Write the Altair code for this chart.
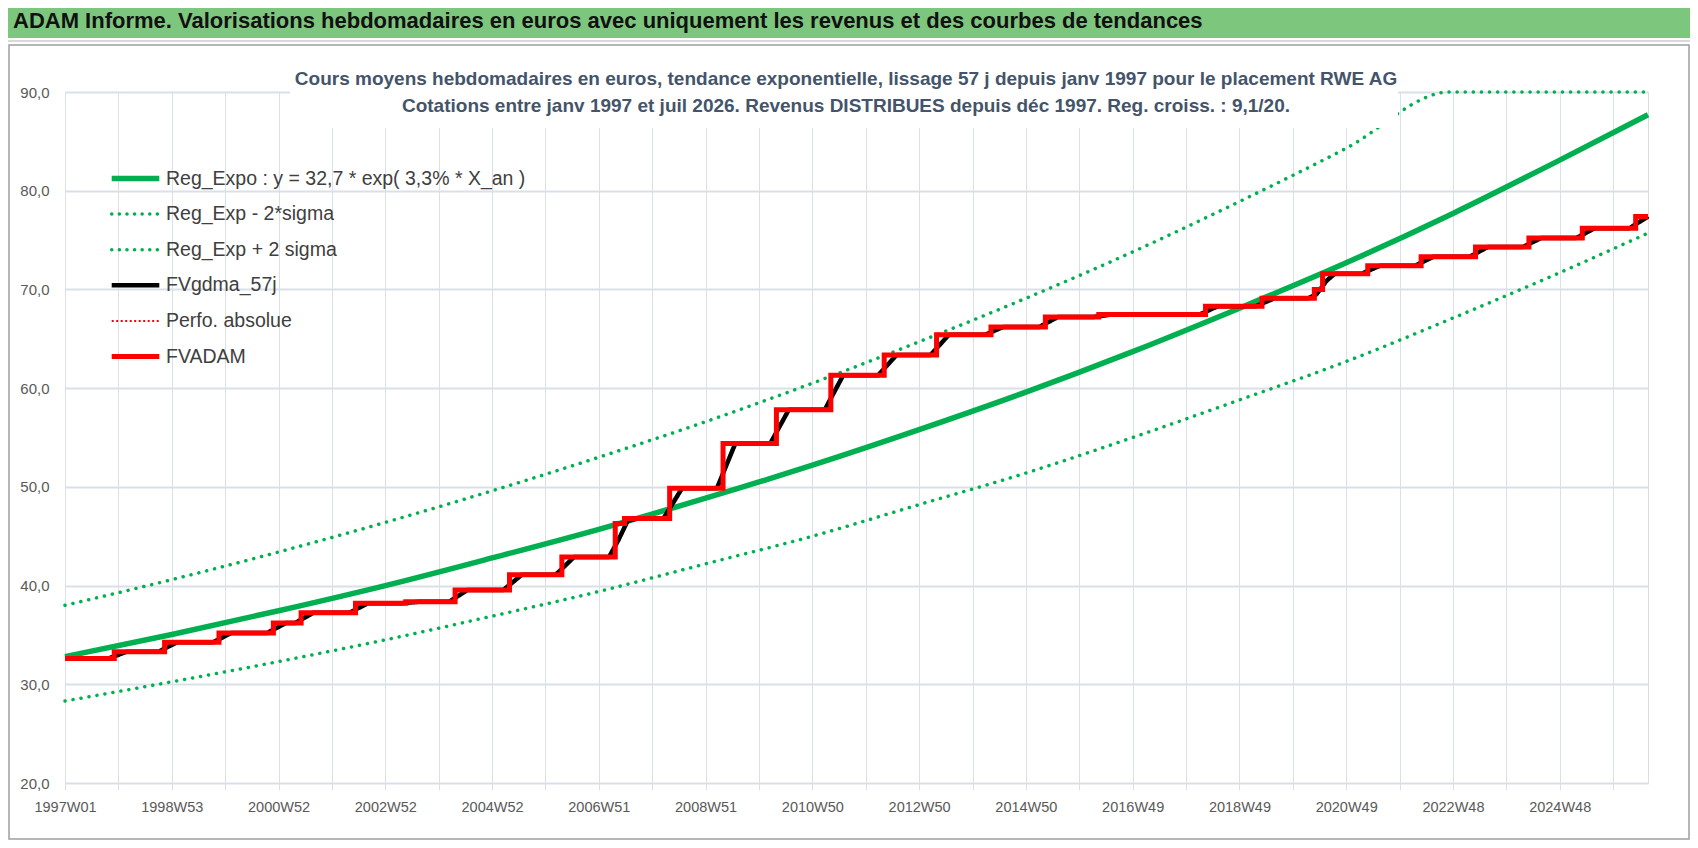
import altair as alt
import pandas as pd

FONT = "Liberation Sans, Arial, sans-serif"

# ---------------- data ----------------
tick_labels = ["1997W01", "1998W53", "2000W52", "2002W52", "2004W52", "2006W51",
               "2008W51", "2010W50", "2012W50", "2014W50", "2016W49", "2018W49",
               "2020W49", "2022W48", "2024W48"]
last_week = 1542  # 2026W30 (juil 2026)

trend_weeks = [0, 104, 208, 312, 416, 520, 624, 728, 832, 936, 1040, 1144, 1248, 1352, 1456, 1542]
reg_expo = [32.8, 35.05, 37.45, 40.0, 42.8, 45.7, 48.85, 52.2, 55.8, 59.6, 63.7, 68.1, 72.7, 77.7, 83.1, 87.7]
reg_minus = [28.3, 30.25, 32.3, 34.5, 36.9, 39.4, 42.2, 45.0, 48.2, 51.4, 55.0, 58.8, 62.7, 67.1, 71.7, 75.7]

plus_weeks = [0, 104, 208, 312, 416, 520, 624, 728, 832, 936, 1040, 1144, 1248, 1349, 1542]
reg_plus = [38.0, 40.6, 43.4, 46.4, 49.6, 53.0, 56.6, 60.5, 64.7, 69.1, 73.8, 78.9, 84.3, 90.0, 90.0]

step_weeks = [0, 48, 97, 150, 203, 230, 283, 332, 380, 433, 484, 536, 545, 589, 641, 693,
              746, 798, 849, 902, 955, 1007, 1111, 1166, 1217, 1225, 1269, 1321, 1374,
              1426, 1478, 1530]
step_levels = [32.6, 33.3, 34.25, 35.2, 36.2, 37.25, 38.2, 38.35, 39.55, 41.1, 42.9, 46.3,
               46.8, 49.85, 54.4, 57.8, 61.3, 63.35, 65.4, 66.2, 67.2, 67.45, 68.3, 69.1,
               70.0, 71.6, 72.4, 73.3, 74.3, 75.2, 76.2, 77.4]

legend_labels = ["Reg_Expo : y = 32,7 * exp( 3,3% *  X_an )", "Reg_Exp - 2*sigma",
                 "Reg_Exp + 2 sigma", "FVgdma_57j", "Perfo. absolue", "FVADAM"]

title_text = "ADAM Informe. Valorisations hebdomadaires en euros avec uniquement les revenus et des courbes de tendances"
subtitle_1 = "Cours moyens hebdomadaires en euros, tendance exponentielle, lissage 57 j depuis janv 1997 pour le placement RWE AG"
subtitle_2 = "Cotations entre janv 1997 et juil 2026. Revenus DISTRIBUES depuis déc 1997. Reg. croiss. : 9,1/20."

# ---------------- tables ----------------
df_expo = pd.DataFrame({"w": trend_weeks, "v": reg_expo})
df_minus = pd.DataFrame({"w": trend_weeks, "v": reg_minus})
df_plus = pd.DataFrame({"w": plus_weeks, "v": reg_plus})

weeks, vals = [], []
k = 0
for w in range(0, last_week + 1):
    while k + 1 < len(step_weeks) and step_weeks[k + 1] <= w:
        k += 1
    weeks.append(w)
    vals.append(step_levels[k])
df_red = pd.DataFrame({"w": weeks, "v": vals})

# ---------------- styling ----------------
W, H = 1583, 691
GREEN = "#00b050"
GRID = "#dadfe8"
arr = "[" + ",".join("'%s'" % t for t in tick_labels) + "]"

x_enc = alt.X("w:Q",
              scale=alt.Scale(domain=[0, last_week], nice=False, zero=False),
              axis=alt.Axis(values=list(range(0, last_week + 1, 52)),
                            labelExpr="datum.value % 104 === 0 ? " + arr + "[datum.value / 104] : ''",
                            grid=True, gridColor=GRID, gridWidth=1, domain=False,
                            ticks=True, tickColor=GRID, tickSize=7, tickWidth=1,
                            labelPadding=10, labelFont=FONT, labelFontSize=14.5,
                            labelColor="#595959", labelOverlap=False, labelFlush=False,
                            title=None))
y_scale = alt.Scale(domain=[20, 90], nice=False, zero=False)
y_axis = alt.Axis(values=list(range(20, 91, 10)),
                  labelExpr="replace(format(datum.value, '.1f'), '.', ',')",
                  grid=True, gridColor=GRID, gridWidth=1.8, domain=False, ticks=False,
                  labelPadding=16, labelFont=FONT, labelFontSize=15, labelColor="#595959",
                  title=None)


def yq(field):
    return alt.Y(field, scale=y_scale, axis=y_axis)


one = pd.DataFrame({"k": [0]})

bar = alt.Chart(one).mark_rect(color="#7dc67d").encode(
    x=alt.value(-57), x2=alt.value(W + 42), y=alt.value(-84), y2=alt.value(-54))
bar_line = alt.Chart(one).mark_rule(color="#d9d9d9", strokeWidth=2).encode(
    x=alt.value(-57), x2=alt.value(W + 42), y=alt.value(-51))
frame = alt.Chart(one).mark_rect(filled=False, stroke="#9e9e9e", strokeWidth=1.5).encode(
    x=alt.value(-56), x2=alt.value(W + 41), y=alt.value(-47), y2=alt.value(747))
title = alt.Chart(pd.DataFrame({"t": [title_text]})).mark_text(
    align="left", baseline="middle", font=FONT, fontSize=22, fontWeight="bold",
    color="#111111").encode(x=alt.value(-52), y=alt.value(-71), text="t:N")

dot_style = dict(strokeWidth=3.5, strokeDash=[0.1, 8], strokeCap="round", color=GREEN)
minus_line = alt.Chart(df_minus).mark_line(interpolate="monotone", **dot_style).encode(
    x=x_enc, y=yq("v:Q"))
plus_line = alt.Chart(df_plus).mark_line(interpolate="monotone", **dot_style).encode(
    x=x_enc, y=yq("v:Q"))
expo_line = alt.Chart(df_expo).mark_line(interpolate="monotone", color=GREEN, strokeWidth=5.5).encode(
    x=x_enc, y=yq("v:Q"))
black_line = alt.Chart(df_red).transform_window(
    sm="mean(v)", frame=[-12, 5], sort=[alt.SortField("w", order="ascending")]
).mark_line(interpolate="monotone", color="#000000", strokeWidth=4.5).encode(
    x=x_enc, y=yq("sm:Q"))
red_line = alt.Chart(df_red).mark_line(interpolate="step-after", color="#ff0000", strokeWidth=5).encode(
    x=x_enc, y=yq("v:Q"))

box = alt.Chart(one).mark_rect(color="white").encode(
    x=alt.value(225), x2=alt.value(1333), y=alt.value(-45), y2=alt.value(36))
sub1 = alt.Chart(pd.DataFrame({"t": [subtitle_1]})).mark_text(
    align="center", baseline="middle", font=FONT, fontSize=19, fontWeight="bold",
    color="#44546a").encode(x=alt.value(781), y=alt.value(-13), text="t:N")
sub2 = alt.Chart(pd.DataFrame({"t": [subtitle_2]})).mark_text(
    align="center", baseline="middle", font=FONT, fontSize=19, fontWeight="bold",
    color="#44546a").encode(x=alt.value(781), y=alt.value(14), text="t:N")

leg_styles = [
    dict(color=GREEN, strokeWidth=5.5),
    dict(color=GREEN, strokeWidth=3.5, strokeDash=[0.1, 7.5], strokeCap="round"),
    dict(color=GREEN, strokeWidth=3.5, strokeDash=[0.1, 7.5], strokeCap="round"),
    dict(color="#000000", strokeWidth=4.5),
    dict(color="#ff0000", strokeWidth=2, strokeDash=[2, 2.5]),
    dict(color="#ff0000", strokeWidth=5),
]
legend_layers = []
for i, (lab, st) in enumerate(zip(legend_labels, leg_styles)):
    ly = 86.5 + 35.6 * i
    d = pd.DataFrame({"t": [lab]})
    legend_layers.append(alt.Chart(d).mark_rule(**st).encode(
        x=alt.value(46.7), x2=alt.value(94.3), y=alt.value(ly)))
    legend_layers.append(alt.Chart(d).mark_text(
        align="left", baseline="middle", font=FONT, fontSize=19.5, color="#404040").encode(
        x=alt.value(101), y=alt.value(ly), text="t:N"))

chart = alt.layer(
    bar, bar_line, frame, title,
    minus_line, plus_line, expo_line, black_line, red_line,
    box, sub1, sub2, *legend_layers
).properties(
    width=W, height=H,
    padding={"left": 57, "top": 84, "right": 42, "bottom": 57},
    autosize=alt.AutoSizeParams(type="none"),
    background="white",
).configure_view(stroke=None).configure(font=FONT)

chart.save("out.html", embed_options={"renderer": "svg", "actions": False})
